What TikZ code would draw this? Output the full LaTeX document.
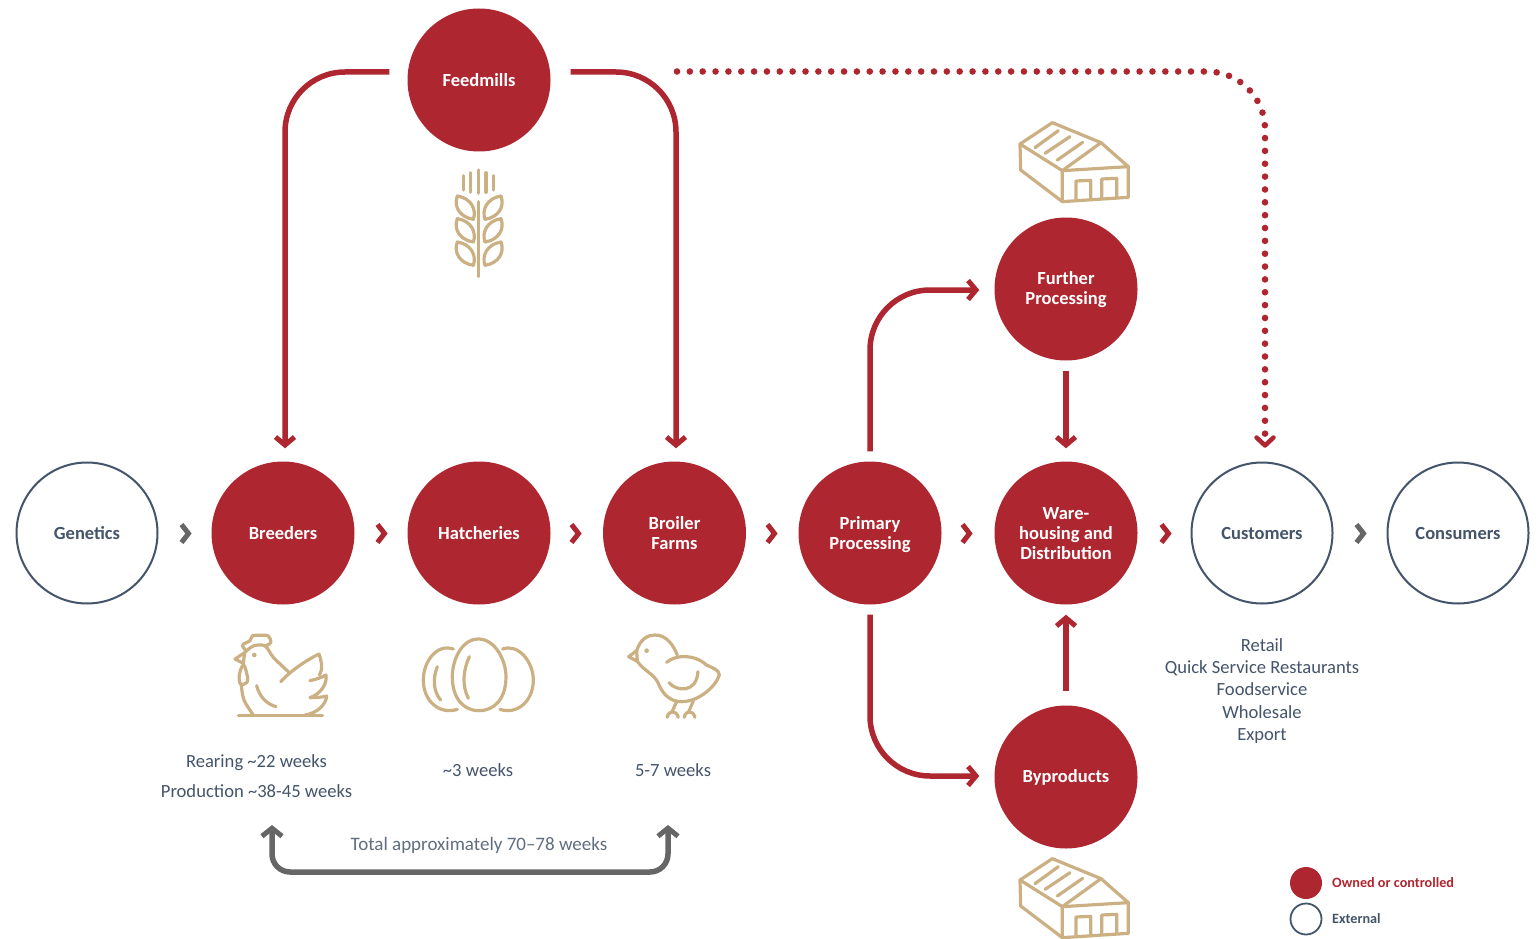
\documentclass[tikz,border=0pt]{standalone}
\usepackage{fontspec}
\setmainfont{Carlito}
\usetikzlibrary{arrows.meta}
\definecolor{brandred}{HTML}{AE2630}
\definecolor{navy}{HTML}{44546A}
\definecolor{gold}{HTML}{CBB083}
\definecolor{arrowgray}{HTML}{666666}
\tikzset{
  x=1pt,y=-1pt,
  ownedcirc/.style={circle,fill=brandred,minimum size=143pt,inner sep=0pt,align=center,text=white,font=\fontsize{18.5}{20}\selectfont\bfseries},
  extcirc/.style={circle,draw=navy,line width=2pt,fill=white,minimum size=141pt,inner sep=0pt,align=center,text=navy,font=\fontsize{18.5}{20}\selectfont\bfseries},
  redflow/.style={draw=brandred,line width=5.5pt,rounded corners=60pt,-{Straight Barb[length=8pt,width=19pt,line width=5pt]}},
  redchev/.style={draw=brandred,line width=5pt},
  graychev/.style={draw=arrowgray,line width=5pt},
  bodytext/.style={text=navy,align=center,inner sep=0pt,font=\fontsize{18.6}{22.2}\selectfont},
  icon/.style={draw=gold,line width=3.2pt,line cap=round,line join=round},
  warehouse/.pic={
    \begin{scope}[x=0.3333pt,y=-0.3333pt,icon]
      \draw (157,38) -- (303,98) -- (187,182) -- (60,102) -- cycle;
      \draw (303,98) -- (385,170);
      \draw (187,182) -- (385,170) -- (385,262) -- (187,275) -- cycle;
      \draw (60,102) -- (62,180) -- (187,275);
      \draw (105,113) -- (175,62) (135,130) -- (210,80) (172,150) -- (248,97);
      \draw (228,270) -- (228,213) -- (272,211) -- (272,268);
      \draw (305,265) -- (305,207) -- (350,205) -- (350,262);
    \end{scope}
  },
}
\begin{document}
\begin{tikzpicture}
\useasboundingbox (0,0) rectangle (1539,939);
% main chain
\node[extcirc] (genetics) at (87,533) {Genetics};
\node[ownedcirc] (breeders) at (283,533) {Breeders};
\node[ownedcirc] (hatch) at (479,533) {Hatcheries};
\node[ownedcirc] (broiler) at (674.5,533) {Broiler\\Farms};
\node[ownedcirc,text depth=0pt] (primary) at (870,533) {Primary\\Processing};
\node[ownedcirc,text depth=-2pt] (ware) at (1066,533) {Ware-\\housing and\\Distribution};
\node[extcirc] (customers) at (1262,533) {Customers};
\node[extcirc] (consumers) at (1458,533) {Consumers};
\node[ownedcirc] (feed) at (479,80) {Feedmills};
\node[ownedcirc,text depth=2pt] (further) at (1066,289) {Further\\Processing};
\node[ownedcirc,text depth=2pt] (byprod) at (1066,777) {Byproducts};
% chevrons
\foreach \cx in {185,1360}
  \draw[graychev] (\cx-3.5,524.5) -- (\cx+3.5,533.5) -- (\cx-3.5,542.5);
\foreach \cx in {381,575,771,966,1165}
  \draw[redchev] (\cx-3.5,524.5) -- (\cx+3.5,533.5) -- (\cx-3.5,542.5);
% feed connectors
\draw[redflow,shorten >=13pt] ([xshift=-18pt,yshift=8pt]feed.west) -| ([xshift=2pt]breeders.north);
\draw[redflow,shorten >=13pt] ([xshift=20pt,yshift=8pt]feed.east) -| ([xshift=1.5pt]broiler.north);
% dotted feed to customers
\coordinate (dotstart) at (677,71.5);
\draw[draw=brandred,line width=6.6pt,line cap=round,rounded corners=58pt,dash pattern=on 0pt off 12.85pt] (dotstart) -| ([xshift=3pt,yshift=24pt]customers.north);
\draw[draw=brandred,line width=4.5pt,line cap=round,line join=round] ([xshift=-5.5pt,yshift=24pt]customers.north) -- ([xshift=3pt,yshift=16pt]customers.north) -- ([xshift=11.5pt,yshift=24pt]customers.north);
% processing connectors
\draw[redflow,shorten <=10pt,shorten >=15pt] (primary.north) |- ([yshift=-1pt]further.west);
\draw[redflow,shorten <=10pt,shorten >=15pt] (primary.south) |- ([yshift=1pt]byprod.west);
\draw[redflow,shorten <=10pt,shorten >=13pt] (further.south) -- (ware.north);
\draw[redflow,shorten <=14pt,shorten >=10pt] (byprod.north) -- (ware.south);
% total weeks
\coordinate (totalL) at (272,825);
\coordinate (totalR) at (668,825);
\draw[draw=arrowgray,line width=5.5pt,rounded corners=18pt,{Straight Barb[length=8pt,width=20pt,line width=5pt]}-{Straight Barb[length=8pt,width=20pt,line width=5pt]}] (totalL) |- (470,872) -| (totalR);
\node[bodytext,text=navy!85,font=\fontsize{19}{22}\selectfont] (total) at (479,845) {Total approximately 70–78 weeks};
% text
\node[bodytext] (rearing) at (256.5,763) {Rearing \textasciitilde22 weeks};
\node[bodytext] (production) at (256.5,791.5) {Production \textasciitilde38-45 weeks};
\node[bodytext] (three) at (478,770.5) {\textasciitilde3 weeks};
\node[bodytext] (five) at (673,770.5) {5-7 weeks};
\node[bodytext] (outlets) at (1262,691) {Retail\\Quick Service Restaurants\\Foodservice\\Wholesale\\Export};
% legend
\node[circle,fill=brandred,minimum size=32pt,inner sep=0pt] (legowned) at (1306,883) {};
\node[circle,draw=navy,line width=1.8pt,minimum size=31pt,inner sep=0pt] (legext) at (1306,919) {};
\node[anchor=west,inner sep=0pt,text=brandred,font=\fontsize{14.2}{15}\selectfont\bfseries] (legownedtext) at (1332,883) {Owned or controlled};
\node[anchor=west,inner sep=0pt,text=navy,font=\fontsize{14.2}{15}\selectfont\bfseries] (legexttext) at (1332,919) {External};
% warehouses
\pic at (1000,110) {warehouse};
\pic at (1000,846) {warehouse};
% wheat
\begin{scope}[shift={(430,160)},x=0.3333pt,y=-0.3333pt,icon]
  \draw (100,47) -- (100,90) (122,38) -- (122,97) (145,30) -- (145,100) (168,38) -- (168,97) (190,47) -- (190,90);
  \draw (145,125) -- (145,350);
  \foreach \dy in {0,68,138} {
    \draw (82,108+\dy) .. controls (125,115+\dy) and (140,150+\dy) .. (130,178+\dy) .. controls (90,172+\dy) and (70,140+\dy) .. cycle;
    \draw (213,108+\dy) .. controls (170,115+\dy) and (155,150+\dy) .. (165,178+\dy) .. controls (205,172+\dy) and (225,140+\dy) .. cycle;
  }
\end{scope}
% hen, eggs, chick
\begin{scope}[shift={(220,620)},x=0.3333pt,y=-0.3333pt,icon]
  % hen
  \draw plot[smooth,tension=0.6] coordinates {(78,92) (68,75) (90,62) (98,47) (120,46) (145,48) (152,68) (135,78)};
  \draw plot[smooth,tension=0.6] coordinates {(74,98) (100,78) (135,78) (160,112) (205,155)};
  \draw (74,98) -- (45,117) -- (70,130) -- (74,98);
  \draw plot[smooth cycle,tension=0.7] coordinates {(70,135) (58,165) (62,192) (82,185) (80,160)};
  \draw plot[smooth,tension=0.6] coordinates {(64,195) (72,240) (100,285)};
  \draw (182,185) .. controls (215,150) and (260,120) .. (297,102) .. controls (305,125) and (310,145) .. (298,165);
  \draw (270,182) .. controls (290,178) and (305,172) .. (318,165) .. controls (322,190) and (305,220) .. (270,233) .. controls (290,233) and (305,232) .. (320,228) .. controls (318,255) and (290,280) .. (255,285);
  \draw (55,287) -- (308,287);
  \draw (110,197) .. controls (118,230) and (140,252) .. (168,260);
  \fill[gold,draw=none] (103,105) circle[radius=7];
  % eggs
  \draw (775,57) .. controls (825,57) and (858,120) .. (858,170) .. controls (858,235) and (825,272) .. (777,272) .. controls (730,272) and (697,235) .. (697,170) .. controls (697,120) and (725,57) .. (775,57) -- cycle;
  \draw (700,87) .. controls (650,70) and (610,125) .. (610,180) .. controls (610,245) and (660,285) .. (712,268);
  \draw (848,87) .. controls (895,70) and (940,125) .. (940,180) .. controls (940,245) and (890,285) .. (840,268);
  \draw (748,110) .. controls (730,150) and (725,195) .. (745,235);
  \draw (652,140) .. controls (638,175) and (640,215) .. (662,240);
  % chick
  \draw (1250,92) .. controls (1262,55) and (1285,45) .. (1305,45) .. controls (1340,45) and (1360,75) .. (1372,105);
  \draw (1250,92) -- (1226,110) -- (1252,124) -- cycle;
  \draw (1340,127) .. controls (1365,105) and (1420,100) .. (1460,135) .. controls (1480,145) and (1498,150) .. (1498,165) .. controls (1490,195) and (1440,245) .. (1385,245) .. controls (1345,245) and (1325,215) .. (1315,190) .. controls (1305,165) and (1270,150) .. (1252,124);
  \draw (1347,188) .. controls (1370,215) and (1430,220) .. (1434,155);
  \draw (1370,245) -- (1355,278) (1420,243) -- (1405,278);
  \draw (1342,292) .. controls (1345,270) and (1370,270) .. (1375,292);
  \draw (1393,292) .. controls (1396,270) and (1420,270) .. (1425,292);
  \fill[gold,draw=none] (1280,92) circle[radius=7];
\end{scope}
\end{tikzpicture}
\end{document}
